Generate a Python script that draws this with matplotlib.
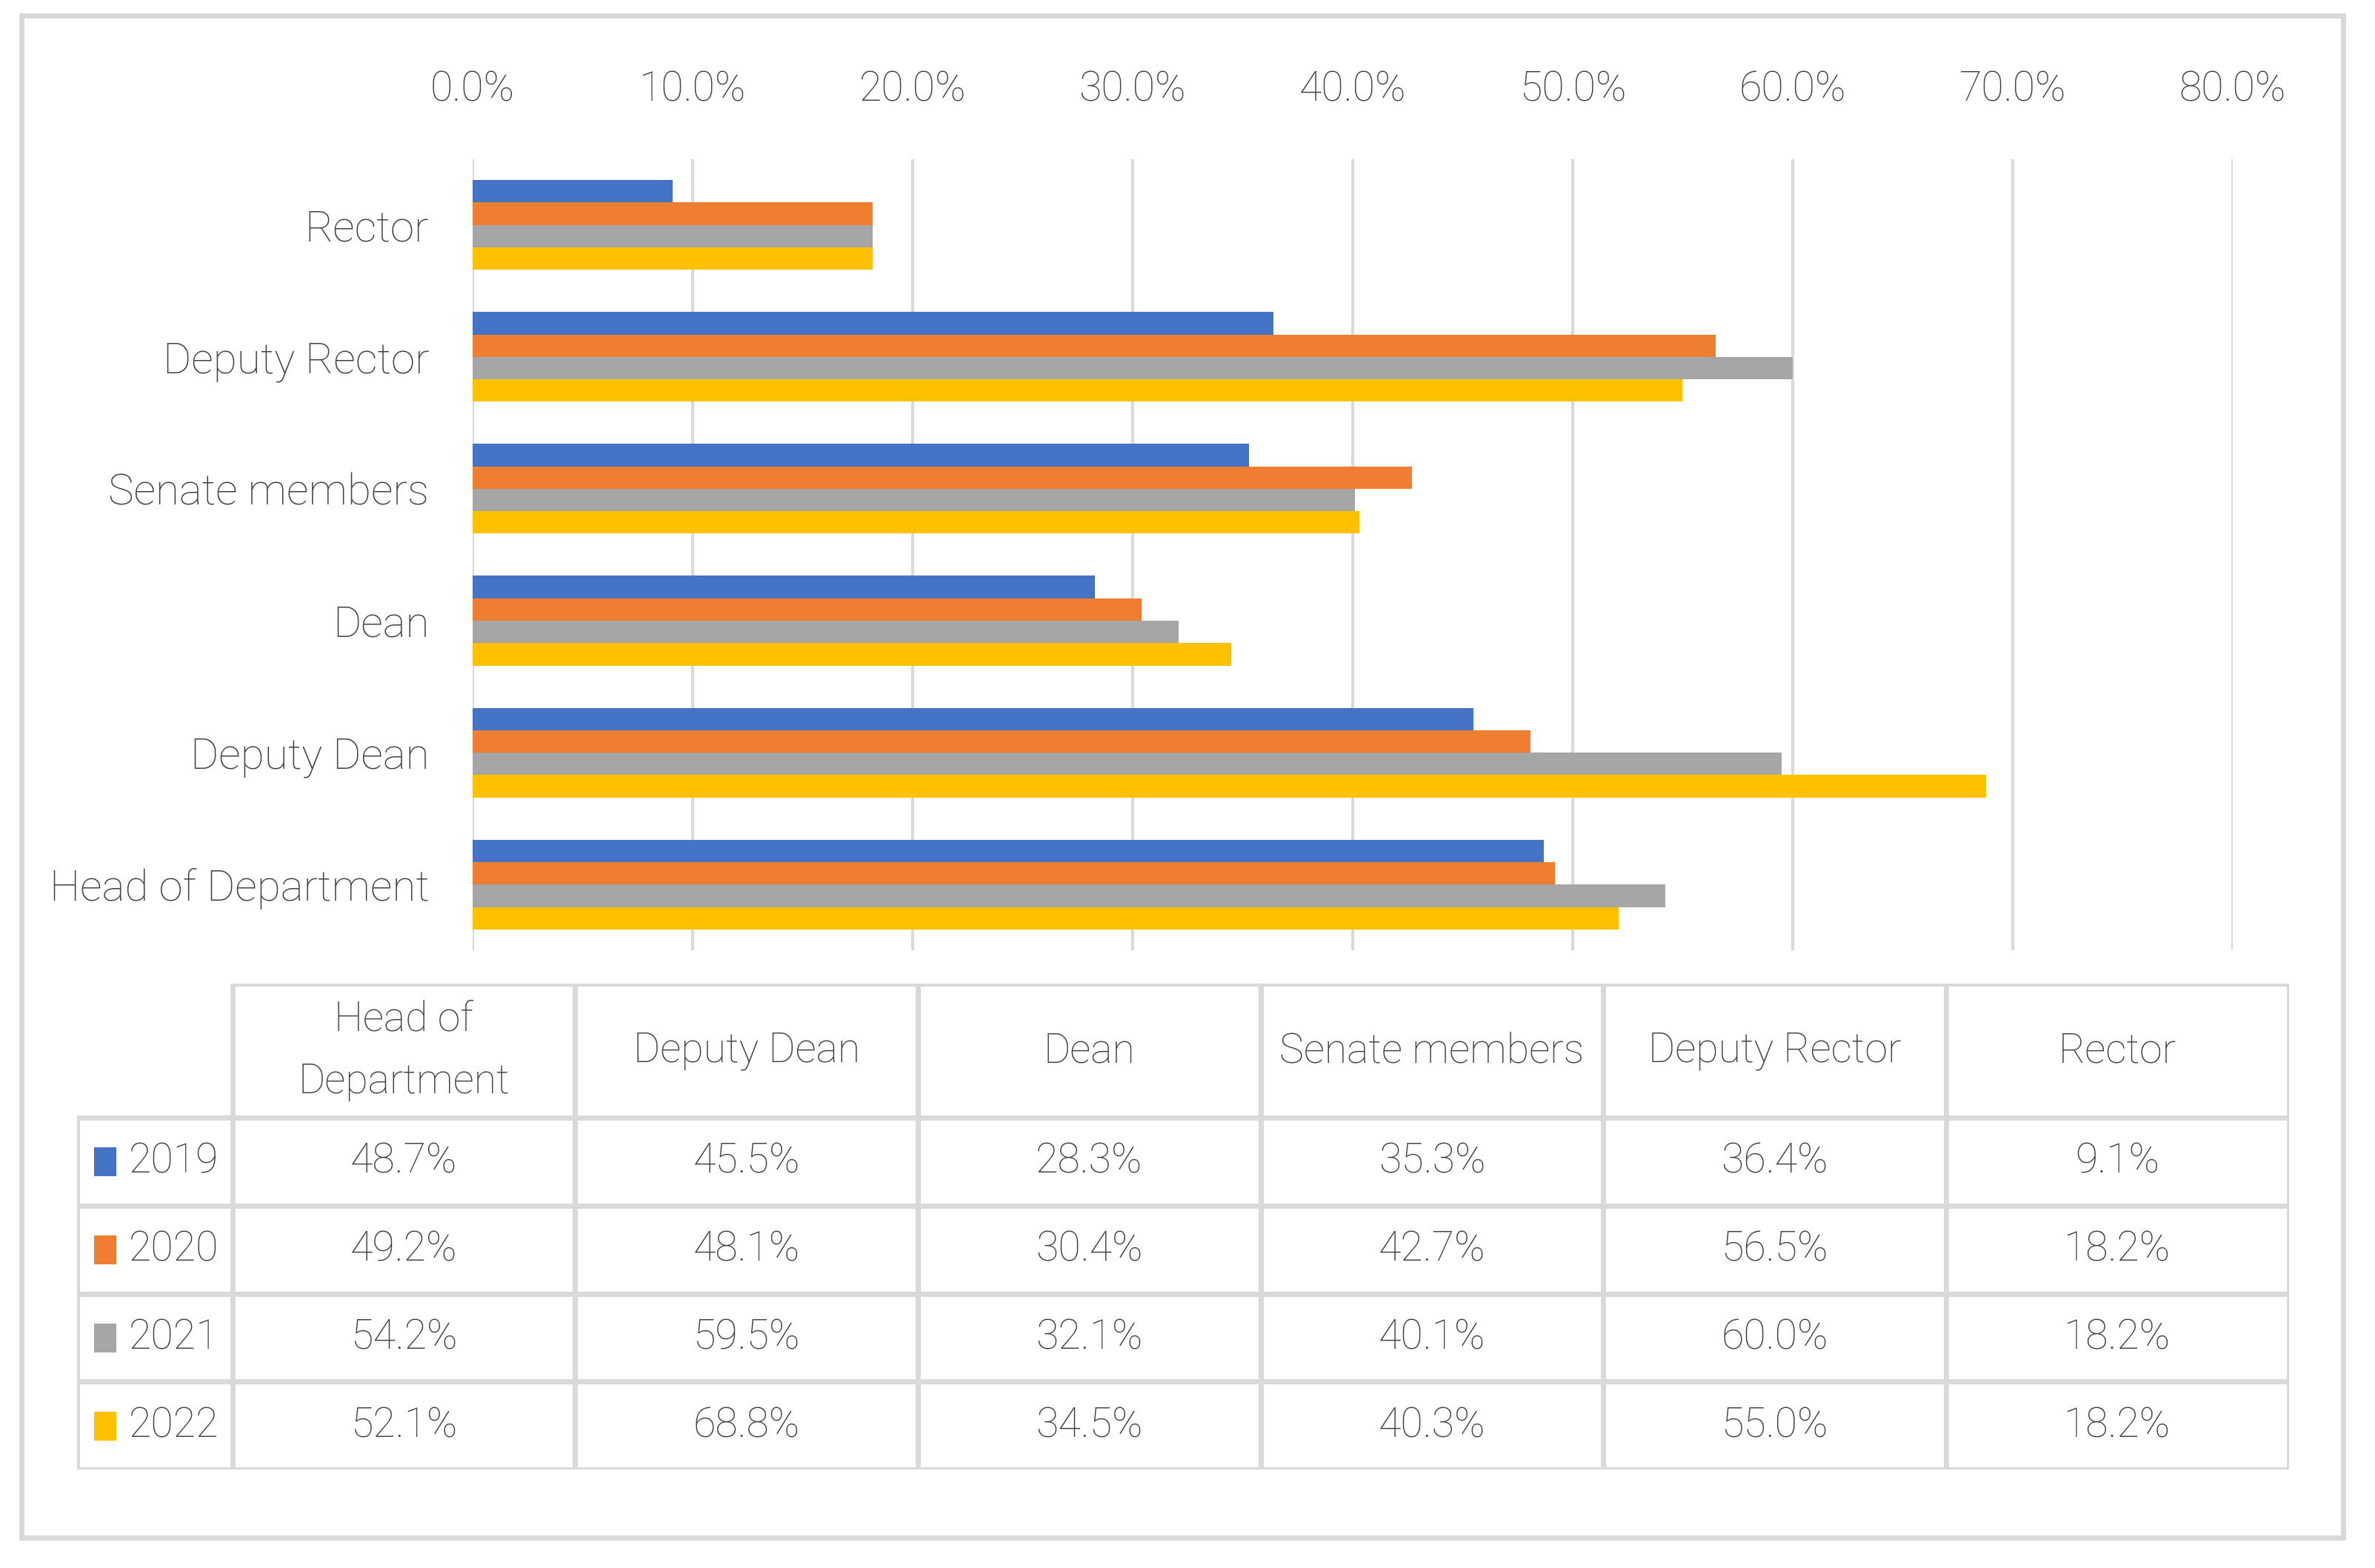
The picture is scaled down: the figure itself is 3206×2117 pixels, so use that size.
import matplotlib as mpl
mpl.use('agg')
import matplotlib.pyplot as plt
from matplotlib.patches import Rectangle
from matplotlib.ticker import PercentFormatter

plt.rcParams['font.family'] = ['Roboto', 'Liberation Sans', 'DejaVu Sans']
plt.rcParams['font.weight'] = 'light'

categories = ['Head of Department', 'Deputy Dean', 'Dean', 'Senate members', 'Deputy Rector', 'Rector']
header_labels = ['Head of\nDepartment', 'Deputy Dean', 'Dean', 'Senate members', 'Deputy Rector', 'Rector']
years = ['2019', '2020', '2021', '2022']
v2019 = [48.7, 45.5, 28.3, 35.3, 36.4, 9.1]
v2020 = [49.2, 48.1, 30.4, 42.7, 56.5, 18.2]
v2021 = [54.2, 59.5, 32.1, 40.1, 60.0, 18.2]
v2022 = [52.1, 68.8, 34.5, 40.3, 55.0, 18.2]
series = [v2019, v2020, v2021, v2022]
colors = ['#4472C4', '#ED7D31', '#A5A5A5', '#FFC000']
xticks = [0, 10, 20, 30, 40, 50, 60, 70, 80]

txt = '#404040'
grid = '#d9d9d9'
fs = 20

fig = plt.figure(figsize=(16.03, 10.585), dpi=200)

# outer frame
fig.patches.append(Rectangle((0.0089, 0.0193), 0.9777, 0.971, transform=fig.transFigure,
                             fill=False, edgecolor=grid, linewidth=2.5))

# bar chart
ax = fig.add_axes([0.1989, 0.3938, 0.7412, 0.5048])
h = 0.17
for i, vals in enumerate(series):
    off = (1.5 - i) * h
    ax.barh([k + off for k in range(len(categories))], vals, height=h, color=colors[i], zorder=3)

ax.set_xlim(0, 80)
ax.set_ylim(-0.5, len(categories) - 0.5)
ax.set_xticks(xticks)
ax.xaxis.set_major_formatter(PercentFormatter(decimals=1))
ax.xaxis.set_ticks_position('top')
ax.set_yticks(range(len(categories)))
ax.set_yticklabels(categories)
ax.tick_params(axis='x', length=0, pad=24, labelsize=fs, labelcolor=txt)
ax.tick_params(axis='y', length=0, pad=21, labelsize=fs + 1, labelcolor=txt)
ax.grid(axis='x', color=grid, linewidth=1.5, zorder=0)
for s in ax.spines.values():
    s.set_visible(False)

# data table
tax = fig.add_axes([0.0325, 0.0627, 0.9312, 0.3099])
w0 = 0.453
hh = 1.52
ncol = len(categories)
tax.set_xlim(-w0, ncol)
tax.set_ylim(hh + len(years), 0)
tax.axis('off')

for j, lab in enumerate(header_labels):
    tax.add_patch(Rectangle((j, 0), 1, hh, facecolor='white', edgecolor=grid, linewidth=2.5))
    tax.text(j + 0.5, hh / 2, lab, ha='center', va='center', fontsize=fs, color=txt, linespacing=1.75)

for i, yr in enumerate(years):
    y0 = hh + i
    tax.add_patch(Rectangle((-w0, y0), w0, 1, facecolor='white', edgecolor=grid, linewidth=2.5))
    tax.add_patch(Rectangle((-w0 + 0.049, y0 + 0.34), 0.066, 0.33, facecolor=colors[i], edgecolor='none'))
    tax.text(-w0 + 0.15, y0 + 0.5, yr, ha='left', va='center', fontsize=fs, color=txt)
    for j in range(ncol):
        tax.add_patch(Rectangle((j, y0), 1, 1, facecolor='white', edgecolor=grid, linewidth=2.5))
        tax.text(j + 0.5, y0 + 0.5, '%.1f%%' % series[i][j], ha='center', va='center',
                 fontsize=fs, color=txt)

fig.savefig('out.png', dpi=200)
